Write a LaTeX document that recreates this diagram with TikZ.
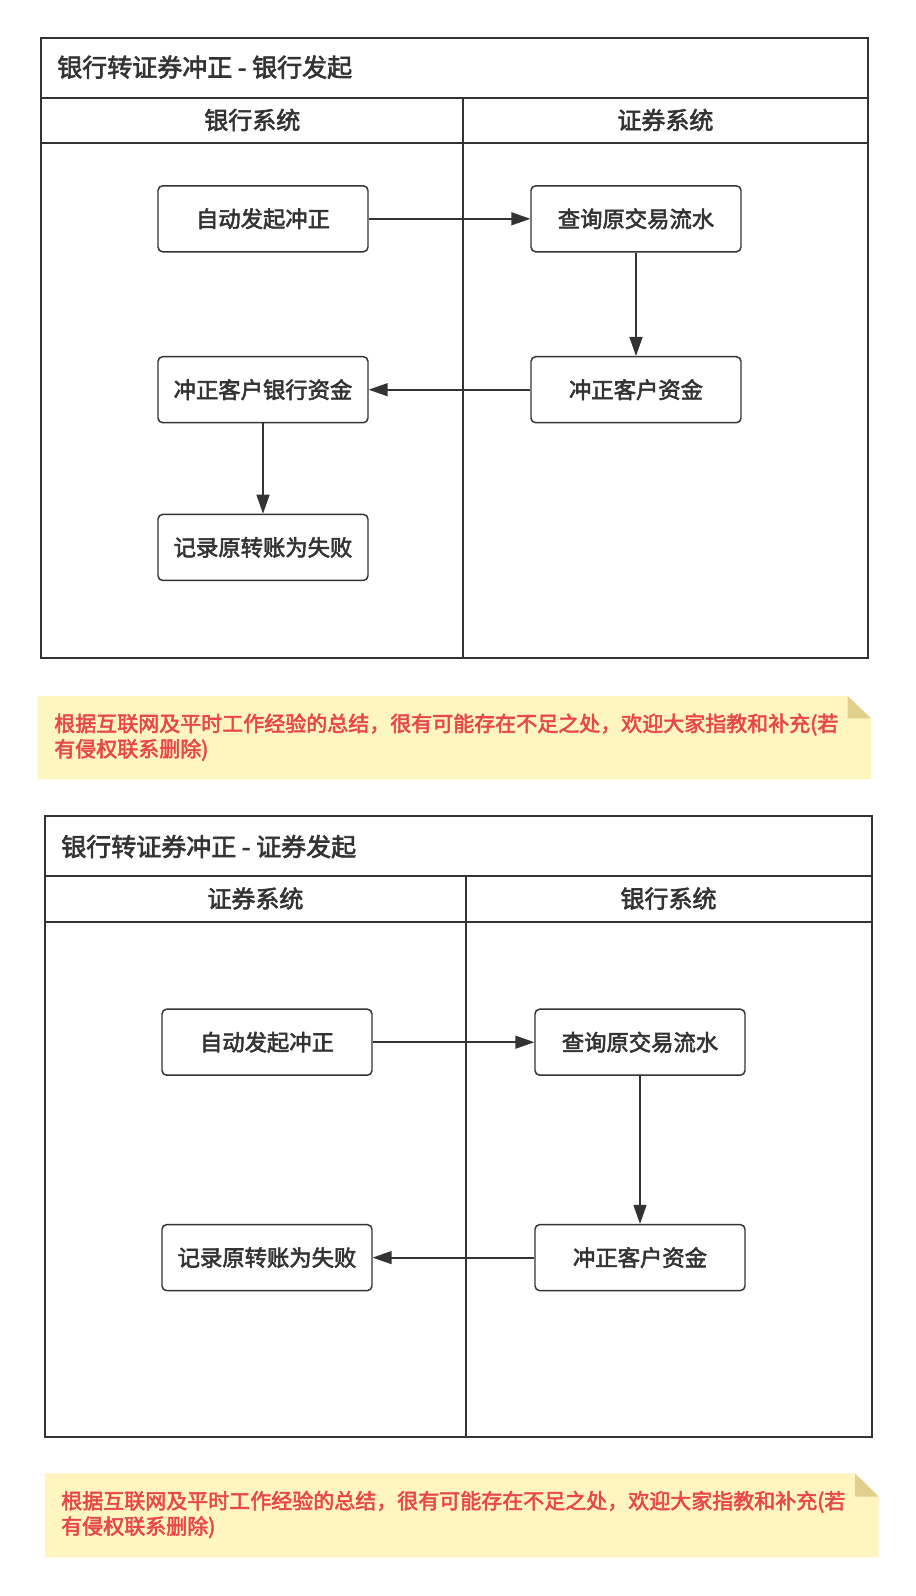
\documentclass[tikz,border=0pt]{standalone}
\usepackage{fontspec}
\usepackage{xcolor}
\setmainfont{Noto Sans CJK SC}
\newfontfamily\cjkbold{Noto Sans CJK SC}[FakeBold=2.5]

\begin{document}
\begin{tikzpicture}[x=0.75pt,y=0.75pt,yscale=-1,xscale=1,
  procbox/.style={draw, color={rgb, 255:red, 51; green, 51; blue, 51 }, fill=white, line width=1.1pt, rounded corners=3.5pt,
    minimum width=157.5pt, minimum height=49.5pt, inner sep=0pt, font=\cjkbold\fontsize{16.75}{19}\selectfont},
  laneline/.style={color={rgb, 255:red, 51; green, 51; blue, 51 }, line width=1.5pt},
  flowline/.style={color={rgb, 255:red, 51; green, 51; blue, 51 }, line width=1.5pt, shorten >=8pt},
  tiphead/.style={fill={rgb, 255:red, 51; green, 51; blue, 51 }, draw opacity=0},
  notefill/.style={fill={rgb, 255:red, 255; green, 245; blue, 190 }, draw opacity=0},
  notefold/.style={fill={rgb, 255:red, 226; green, 207; blue, 140 }, draw opacity=0},
  notetext/.style={color={rgb, 255:red, 232; green, 70; blue, 74 }, align=left, inner sep=0pt,
    font=\cjkbold\fontsize{15.75}{19}\selectfont}
]
\fill [white] (0,0) rectangle (916,1596);
\useasboundingbox (0,0) rectangle (916,1596);

%Shape: Rectangle [pool 1]
\draw [laneline] (40.7,37.6) rectangle (868,658.3);
\draw [laneline] (40.7,97.7) -- (868,97.7);
\draw [laneline] (40.7,142.5) -- (868,142.5);
\draw [laneline] (463,97.7) -- (463,658.3);

% Text Node
\draw (57,67.2) node [anchor=west][inner sep=0pt][color={rgb, 255:red, 51; green, 51; blue, 51 }][font=\cjkbold\fontsize{18.75}{22}\selectfont] (titlea) {银行转证券冲正 - 银行发起};
% Text Node
\draw (252.3,120) node [color={rgb, 255:red, 51; green, 51; blue, 51 }][font=\cjkbold\fontsize{18}{21}\selectfont] (laneabank) {银行系统};
% Text Node
\draw (665.4,120) node [color={rgb, 255:red, 51; green, 51; blue, 51 }][font=\cjkbold\fontsize{18}{21}\selectfont] (laneasec) {证券系统};

%Shape: Boxes
\node [procbox] (aauto) at (263,218.8) {自动发起冲正};
\node [procbox] (aquery) at (636,218.8) {查询原交易流水};
\node [procbox] (asecfund) at (636,389.7) {冲正客户资金};
\node [procbox] (abankfund) at (263,389.7) {冲正客户银行资金};
\node [procbox] (afail) at (263,547.4) {记录原转账为失败};

%Straight Lines
\draw [flowline] (aauto.east) -- (aquery.west);
\draw [shift={(aquery.west)}, rotate = 180] [tiphead] (19,-6.7) -- (0,0) -- (19,6.7) -- cycle;
\draw [flowline] (aquery.south) -- (asecfund.north);
\draw [shift={(asecfund.north)}, rotate = 270] [tiphead] (19,-6.7) -- (0,0) -- (19,6.7) -- cycle;
\draw [flowline] (asecfund.west) -- (abankfund.east);
\draw [shift={(abankfund.east)}, rotate = 0] [tiphead] (19,-6.7) -- (0,0) -- (19,6.7) -- cycle;
\draw [flowline] (abankfund.south) -- (afail.north);
\draw [shift={(afail.north)}, rotate = 270] [tiphead] (19,-6.7) -- (0,0) -- (19,6.7) -- cycle;

%Shape: Note 1
\draw [notefill] (37.6,696) -- (847.6,696) -- (871,718.4) -- (871,779.4) -- (37.6,779.4) -- cycle;
\draw [notefold] (847.6,696) -- (871,718.4) -- (847.6,718.4) -- cycle;
% Text Node
\draw (54,737.2) node [anchor=west][notetext] (notea) {根据互联网及平时工作经验的总结，很有可能存在不足之处，欢迎大家指教和补充(若\\有侵权联系删除)};

%Shape: Rectangle [pool 2]
\draw [laneline] (44.8,816) rectangle (872,1437);
\draw [laneline] (44.8,876) -- (872,876);
\draw [laneline] (44.8,921.9) -- (872,921.9);
\draw [laneline] (466,876) -- (466,1437);

% Text Node
\draw (61,846.6) node [anchor=west][inner sep=0pt][color={rgb, 255:red, 51; green, 51; blue, 51 }][font=\cjkbold\fontsize{18.75}{22}\selectfont] (titleb) {银行转证券冲正 - 证券发起};
% Text Node
\draw (255.4,898.5) node [color={rgb, 255:red, 51; green, 51; blue, 51 }][font=\cjkbold\fontsize{18}{21}\selectfont] (lanebsec) {证券系统};
% Text Node
\draw (668.5,898.5) node [color={rgb, 255:red, 51; green, 51; blue, 51 }][font=\cjkbold\fontsize{18}{21}\selectfont] (lanebbank) {银行系统};

%Shape: Boxes
\node [procbox] (bauto) at (267,1042.2) {自动发起冲正};
\node [procbox] (bquery) at (640,1042.2) {查询原交易流水};
\node [procbox] (bbankfund) at (640,1257.6) {冲正客户资金};
\node [procbox] (bfail) at (267,1257.6) {记录原转账为失败};

%Straight Lines
\draw [flowline] (bauto.east) -- (bquery.west);
\draw [shift={(bquery.west)}, rotate = 180] [tiphead] (19,-6.7) -- (0,0) -- (19,6.7) -- cycle;
\draw [flowline] (bquery.south) -- (bbankfund.north);
\draw [shift={(bbankfund.north)}, rotate = 270] [tiphead] (19,-6.7) -- (0,0) -- (19,6.7) -- cycle;
\draw [flowline] (bbankfund.west) -- (bfail.east);
\draw [shift={(bfail.east)}, rotate = 0] [tiphead] (19,-6.7) -- (0,0) -- (19,6.7) -- cycle;

%Shape: Note 2
\draw [notefill] (44.8,1473.3) -- (855,1473.3) -- (878.7,1496.7) -- (878.7,1557.3) -- (44.8,1557.3) -- cycle;
\draw [notefold] (855,1473.3) -- (878.7,1496.7) -- (855,1496.7) -- cycle;
% Text Node
\draw (61,1514.5) node [anchor=west][notetext] (noteb) {根据互联网及平时工作经验的总结，很有可能存在不足之处，欢迎大家指教和补充(若\\有侵权联系删除)};

\end{tikzpicture}
\end{document}
